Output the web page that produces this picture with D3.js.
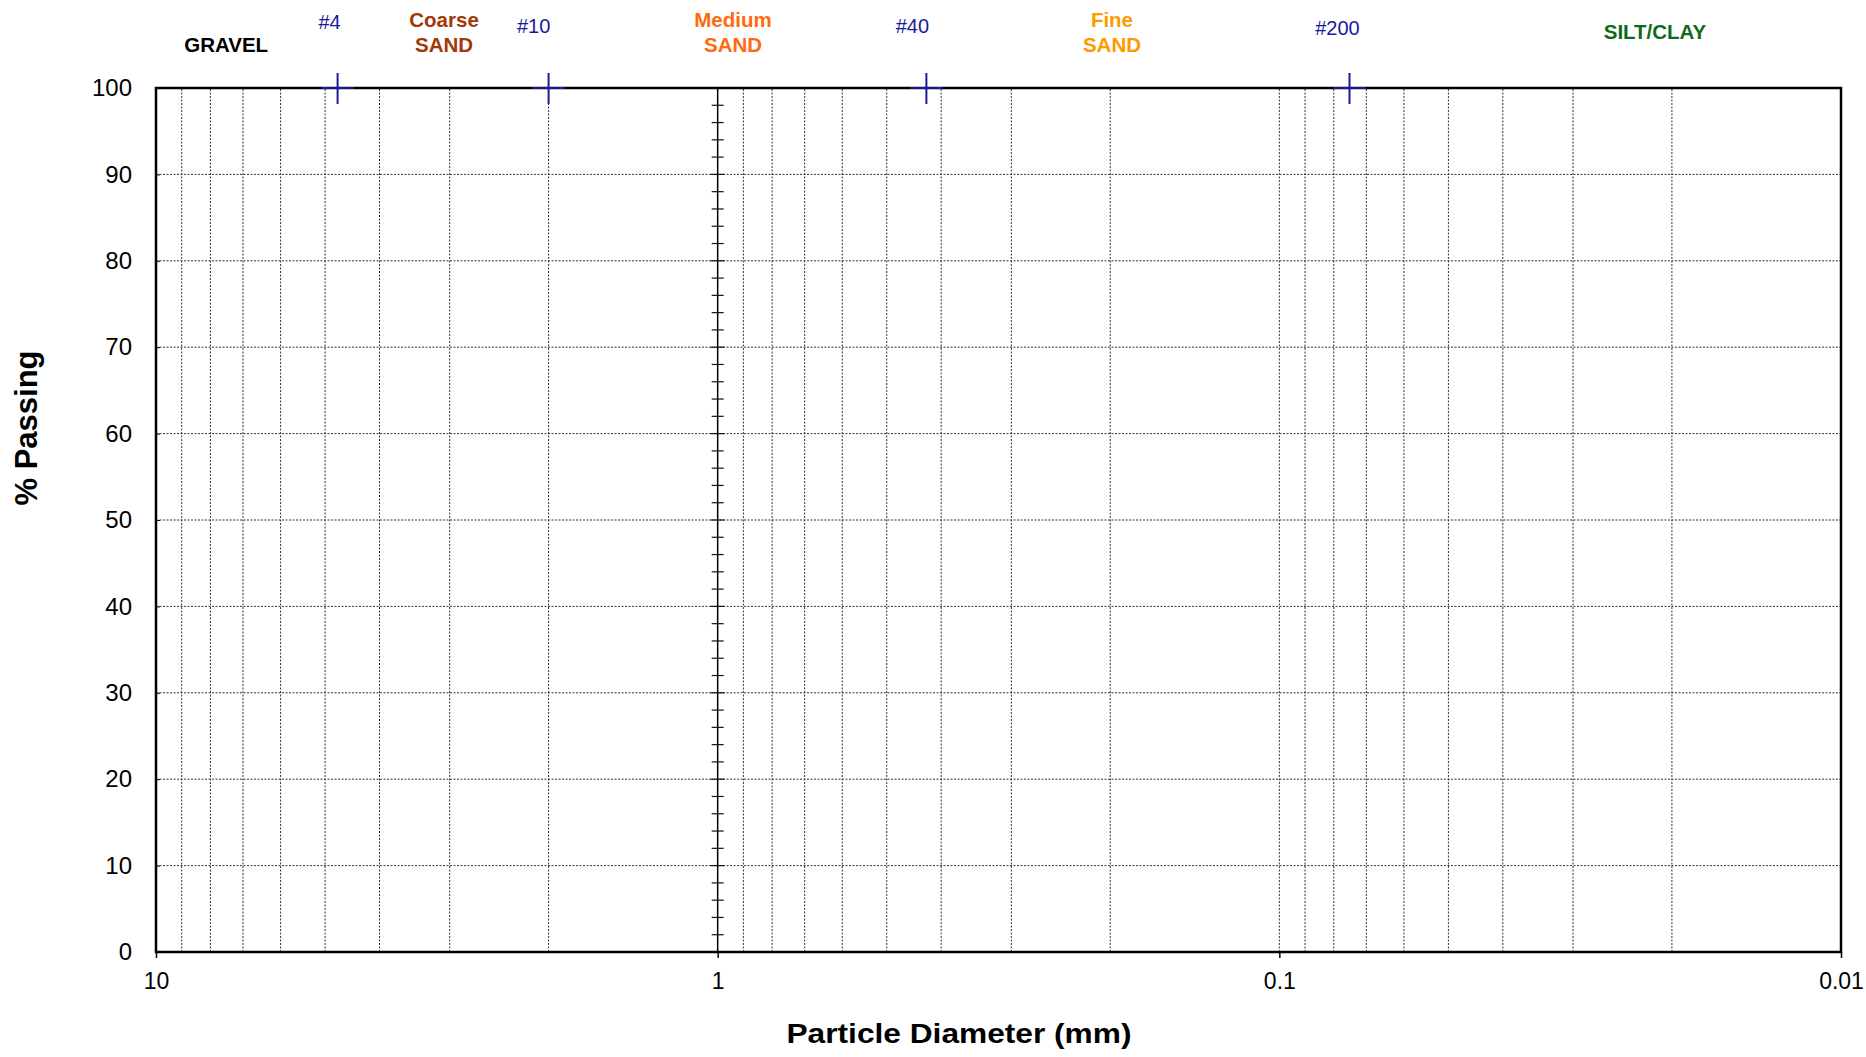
<!DOCTYPE html>
<html>
<head>
<meta charset="utf-8">
<script src="https://cdn.jsdelivr.net/npm/d3@7"></script>
<style>
  html, body { margin: 0; padding: 0; background: #fff; }
  svg { display: block; }
  text { font-family: "Liberation Sans", Arial, Helvetica, sans-serif; }
</style>
</head>
<body>
<svg id="chart" width="1866" height="1057"></svg>
<script>
// ---------------- data ----------------
const yTickValues = [0, 10, 20, 30, 40, 50, 60, 70, 80, 90, 100];
const yTickLabels = ["0", "10", "20", "30", "40", "50", "60", "70", "80", "90", "100"];
const yMinorTickValues = d3.range(0, 101, 2);
const xTickValues = [10, 1, 0.1, 0.01];
const xTickLabels = ["10", "1", "0.1", "0.01"];
const gridDiameters = [9, 8, 7, 6, 5, 4, 3, 2,
                       0.9, 0.8, 0.7, 0.6, 0.5, 0.4, 0.3, 0.2,
                       0.1, 0.09, 0.08, 0.07, 0.06, 0.05, 0.04, 0.03, 0.02];
const sieveNames = ["#4", "#10", "#40", "#200"];
const sieveSizes = [4.75, 2.0, 0.425, 0.075];
const soilLine1 = ["", "Coarse", "Medium", "Fine", ""];
const soilLine2 = ["GRAVEL", "SAND", "SAND", "SAND", "SILT/CLAY"];
const soilLabelDiameters = [7.5, 3.07, 0.939, 0.1986, 0.02144];
const xTitle = "Particle Diameter (mm)";
const yTitle = "% Passing";

// ---------------- layout / style ----------------
const L = 156, R = 1841, T = 88, B = 952;
const soilColors = ["#000000", "#a0380a", "#ff6a10", "#ff9900", "#0e6b1c"];
const soilBaseline2 = [52, 52, 52, 52, 39];
const sieveColor = "#1a1a9c";
const sieveLabelDx = [-8, -15, -14, -12];
const sieveLabelBaseline = [29, 33, 33, 35];

const svg = d3.select("#chart");
const x = d3.scaleLog().domain([10, 0.01]).range([L, R]);
const y = d3.scaleLinear().domain([0, 100]).range([B, T]);

// vertical dotted gridlines
svg.append("g").selectAll("line").data(gridDiameters).join("line")
  .attr("x1", d => x(d)).attr("x2", d => x(d))
  .attr("y1", y(0)).attr("y2", y(100))
  .attr("stroke", "#333").attr("stroke-width", 1)
  .attr("stroke-dasharray", "2,1.5");

// horizontal dotted gridlines
svg.append("g").selectAll("line").data(yTickValues.filter(v => v > 0 && v < 100)).join("line")
  .attr("x1", x(10)).attr("x2", x(0.01))
  .attr("y1", d => y(d)).attr("y2", d => y(d))
  .attr("stroke", "#333").attr("stroke-width", 1)
  .attr("stroke-dasharray", "2,1.5");

// secondary axis at 1 mm with cross ticks
const axis1 = svg.append("g");
axis1.append("line")
  .attr("x1", x(1)).attr("x2", x(1)).attr("y1", y(0)).attr("y2", y(100))
  .attr("stroke", "#000").attr("stroke-width", 1.5);
axis1.selectAll("line.tk").data(yMinorTickValues).join("line").attr("class", "tk")
  .attr("x1", d => x(1) - (d % 10 === 0 ? 7 : 6))
  .attr("x2", d => x(1) + (d % 10 === 0 ? 7 : 6))
  .attr("y1", d => y(d)).attr("y2", d => y(d))
  .attr("stroke", "#111").attr("stroke-width", 1.2);

// y axis
const yAxis = d3.axisLeft(y).tickValues(yTickValues)
  .tickFormat((d, i) => yTickLabels[i]).tickSizeInner(-4).tickSizeOuter(0).tickPadding(24);
const gy = svg.append("g").attr("transform", `translate(${L},0)`).call(yAxis);
gy.select(".domain").remove();
gy.selectAll("text").attr("font-size", 24).attr("fill", "#000")
  .attr("font-family", '"Liberation Sans", Arial, sans-serif');
gy.selectAll(".tick line").attr("stroke", "#000").attr("stroke-width", 1);

// x axis
const xAxis = d3.axisBottom(x).tickValues(xTickValues)
  .tickFormat((d, i) => xTickLabels[i]).tickSizeInner(6).tickSizeOuter(0).tickPadding(15);
const gx = svg.append("g").attr("transform", `translate(0,${B})`).call(xAxis);
gx.select(".domain").remove();
gx.selectAll("text").attr("font-size", 23).attr("fill", "#000")
  .attr("font-family", '"Liberation Sans", Arial, sans-serif');
gx.selectAll(".tick line").attr("stroke", "#000").attr("stroke-width", 1.5);

// frame
svg.append("rect")
  .attr("x", x(10)).attr("y", y(100))
  .attr("width", x(0.01) - x(10)).attr("height", y(0) - y(100))
  .attr("fill", "none").attr("stroke", "#000").attr("stroke-width", 2.5);

// sieve crosses
const sg = svg.append("g");
sg.selectAll("line.h").data(sieveSizes).join("line").attr("class", "h")
  .attr("x1", d => x(d) - 16).attr("x2", d => x(d) + 16)
  .attr("y1", y(100)).attr("y2", y(100))
  .attr("stroke", sieveColor).attr("stroke-width", 2);
sg.selectAll("line.v").data(sieveSizes).join("line").attr("class", "v")
  .attr("x1", d => x(d)).attr("x2", d => x(d))
  .attr("y1", y(100) - 15).attr("y2", y(100) + 16)
  .attr("stroke", sieveColor).attr("stroke-width", 2);
sg.selectAll("text").data(sieveNames).join("text")
  .attr("x", (d, i) => x(sieveSizes[i]) + sieveLabelDx[i])
  .attr("y", (d, i) => sieveLabelBaseline[i])
  .attr("text-anchor", "middle").attr("font-size", 20).attr("fill", sieveColor)
  .text(d => d);

// soil classification labels
const lg = svg.append("g");
lg.selectAll("text.l1").data(soilLine1).join("text").attr("class", "l1")
  .attr("x", (d, i) => x(soilLabelDiameters[i])).attr("y", 27)
  .attr("text-anchor", "middle").attr("font-size", 20.5).attr("font-weight", "bold")
  .attr("fill", (d, i) => soilColors[i]).text(d => d);
lg.selectAll("text.l2").data(soilLine2).join("text").attr("class", "l2")
  .attr("x", (d, i) => x(soilLabelDiameters[i])).attr("y", (d, i) => soilBaseline2[i])
  .attr("text-anchor", "middle").attr("font-size", 20.5).attr("font-weight", "bold")
  .attr("fill", (d, i) => soilColors[i]).text(d => d);

// axis titles
svg.append("text")
  .attr("x", 959).attr("y", 1043)
  .attr("text-anchor", "middle").attr("font-size", 27).attr("font-weight", "bold")
  .attr("textLength", 345).attr("lengthAdjust", "spacingAndGlyphs")
  .text(xTitle);
svg.append("text")
  .attr("transform", "translate(37,428) rotate(-90)")
  .attr("text-anchor", "middle").attr("font-size", 31).attr("font-weight", "bold")
  .text(yTitle);
</script>
</body>
</html>
